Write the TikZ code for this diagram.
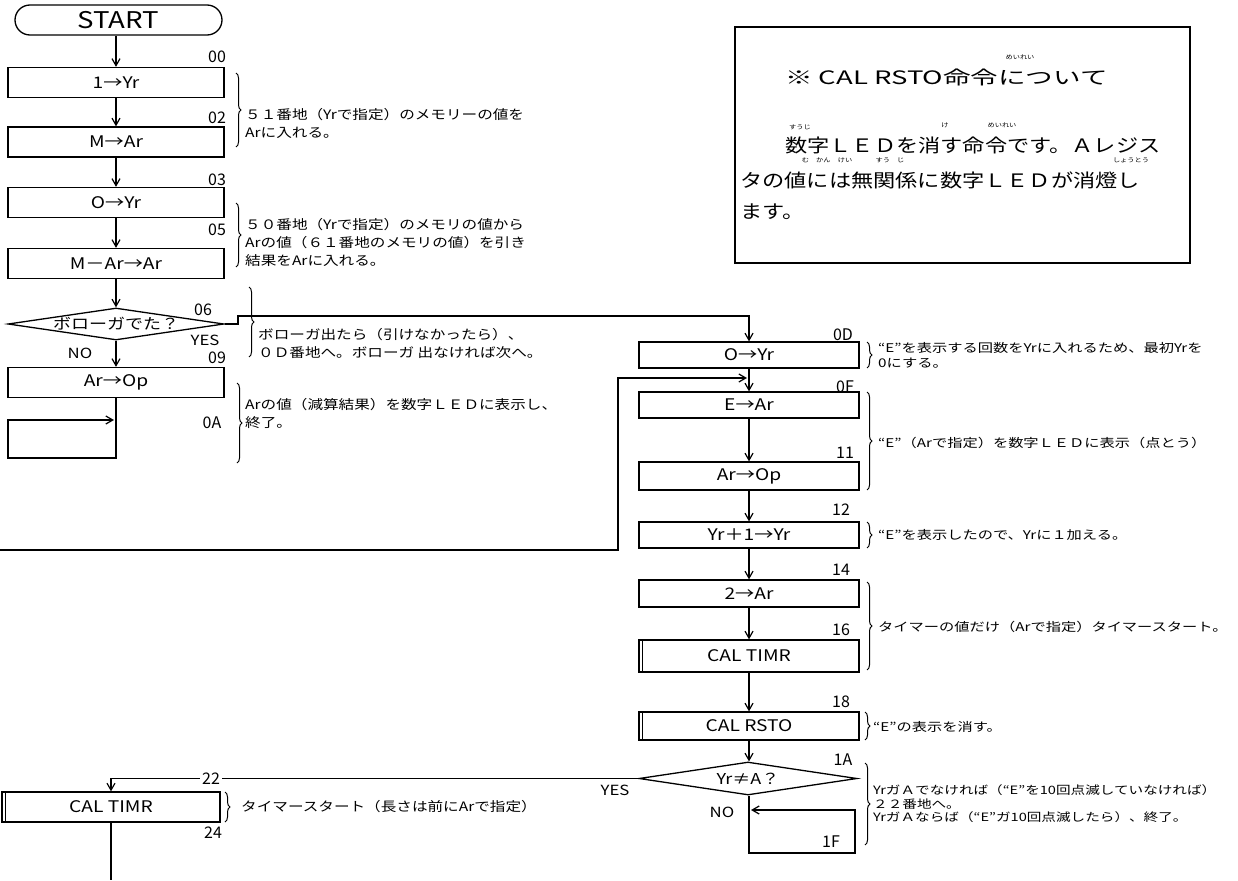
\documentclass[tikz,border=0pt]{standalone}
\usepackage{graphicx}
\usepackage{fontspec}
\setmainfont{Noto Sans CJK JP}[FakeStretch=1.2]
\newfontfamily\numfont{Noto Sans CJK JP}
\newfontfamily\rjp{Noto Sans CJK JP}[FakeStretch=1.27]
\usetikzlibrary{shapes.geometric,arrows.meta,decorations.pathreplacing,calc}
\begin{document}
\begin{tikzpicture}[x=1pt,y=-1pt,
  ln/.style={line width=1.3pt},
  arr/.style={ln,-{Straight Barb[length=7pt,width=8pt,line width=1.2pt]}},
  proc/.style={draw,ln,rectangle,minimum width=216pt,minimum height=30pt,inner sep=0pt,font=\fontsize{16}{16}\selectfont},
  rproc/.style={proc,minimum width=220pt},
  dec/.style={draw,ln,diamond,aspect=6.75,inner sep=0pt,minimum width=216pt,minimum height=32pt,font=\fontsize{15}{15}\selectfont},
  lab/.style={font=\numfont\fontsize{16}{16}\selectfont,inner sep=0pt},
  yn/.style={font=\fontsize{14}{14}\selectfont,inner sep=0pt},
  note/.style={font=\fontsize{13}{18}\selectfont,align=left,anchor=west,inner sep=0pt},
  rnote/.style={font=\rjp\fontsize{12}{15}\selectfont,align=left,anchor=west,inner sep=0pt},
  boxtxt/.style={font=\fontsize{18.5}{18.5}\selectfont,anchor=west,inner sep=0pt},
  ruby/.style={font=\fontsize{6}{6}\selectfont,inner sep=0pt},
  brc/.style={decorate,decoration={brace,amplitude=5pt},line width=1pt}]
\useasboundingbox[fill=white] (0,0) rectangle (1238,880);

% ---------- left column ----------
\node[draw,ln,rounded corners=15pt,minimum width=207pt,minimum height=30pt,inner sep=0pt,font=\fontsize{23}{23}\selectfont] (start) at (118.5,20) {START};
\node[proc] (a) at (116,82.5) {1→Yr};
\node[proc] (b) at (116,142) {M→Ar};
\node[proc] (c) at (116,202.5) {O→Yr};
\node[proc] (d) at (116,263.5) {M－Ar→Ar};
\node[dec] (q1) at (116,324) {ボローガでた？};
\node[proc] (e) at (116,382.5) {Ar→Op};

\draw[arr] (start.south -| a.north) -- (a.north);
\draw[arr] (a) -- (b);
\draw[arr] (b) -- (c);
\draw[arr] (c) -- (d);
\draw[arr] (d) -- (q1);
\draw[arr] (q1) -- (e);

\coordinate (l1) at (116,458);
\coordinate (l2) at (8,458);
\coordinate (l3) at (8,420);
\coordinate (l4) at (114,420);
\draw[arr] (e.south) -- (l1) -- (l2) -- (l3) -- (l4);

\node[lab] (n00) at (217,57) {00};
\node[lab] (n02) at (217,118) {02};
\node[lab] (n03) at (217,180) {03};
\node[lab] (n05) at (217,230) {05};
\node[lab] (n06) at (203,310) {06};
\node[yn] (yes1) at (205,340) {YES};
\node[yn] (no1) at (80,353) {NO};
\node[lab] (n09) at (217,358) {09};
\node[lab] (n0A) at (212,423) {0A};

\draw[brc] (236,73) -- (236,147);
\node[note] (t1) at (245,123) {５１番地（Yrで指定）のメモリーの値を\\Arに入れる。};
\draw[brc] (236,203) -- (236,267);
\node[note] (t2) at (245,242) {５０番地（Yrで指定）のメモリの値から\\Arの値（６１番地のメモリの値）を引き\\結果をArに入れる。};
\draw[brc] (249,287) -- (249,357);
\node[note] (t3) at (258,343) {ボローガ出たら（引けなかったら）、\\０Ｄ番地へ。ボローガ 出なければ次へ。};
\draw[brc] (237,383) -- (237,463);
\node[note] (t4) at (245,413) {Arの値（減算結果）を数字ＬＥＤに表示し、\\終了。};

% ---------- right column ----------
\node[rproc,minimum height=26pt] (f) at (749,355) {O→Yr};
\node[rproc,minimum height=26pt] (g) at (749,405) {E→Ar};
\node[rproc,minimum height=28pt] (h) at (749,476) {Ar→Op};
\node[rproc,minimum height=26pt] (i) at (749,535) {Yr＋1→Yr};
\node[rproc,minimum height=27pt] (j) at (749,593.5) {2→Ar};
\node[rproc,minimum height=32pt] (k) at (749,656) {CAL TIMR};
\node[rproc,minimum height=28pt] (l) at (749,726) {CAL RSTO};
\node[dec,minimum width=218pt,minimum height=33pt] (q2) at (748,778.5) {Yr≠A？};
\node[proc,minimum width=218pt] (m) at (111,807) {CAL TIMR};
\draw[ln] ([xshift=4pt]k.north west) -- ([xshift=4pt]k.south west);
\draw[ln] ([xshift=4pt]l.north west) -- ([xshift=4pt]l.south west);
\draw[ln] ([xshift=4pt]m.north west) -- ([xshift=4pt]m.south west);

\coordinate (y1) at (238,324);
\coordinate (y2) at (238,316);
\coordinate (y3) at (749,316);
\draw[arr] (q1.east) -- (y1) -- (y2) -- (y3) -- (f.north);

\draw[arr] (f) -- (g);
\draw[arr] (g) -- (h);
\draw[arr] (h) -- (i);
\draw[arr] (i) -- (j);
\draw[arr] (j) -- (k);
\draw[arr] (k) -- (l);
\draw[arr] (l) -- (q2.north -| l.south);

\coordinate (r0) at (0,550);
\coordinate (r1) at (618,550);
\coordinate (r2) at (618,378);
\coordinate (r3) at (747,378);
\draw[arr] (r0) -- (r1) -- (r2) -- (r3);

\coordinate (s1) at (749,853);
\coordinate (s2) at (855,853);
\coordinate (s3) at (855,810);
\coordinate (s4) at (751,810);
\draw[arr] (q2.south -| l.south) -- (s1) -- (s2) -- (s3) -- (s4);

\coordinate (w1) at (111,778.5);
\draw[arr] (q2.west) -- (w1) -- (m.north);
\coordinate (w2) at (111,880);
\draw[ln] (m.south) -- (w2);

\node[lab] (n0D) at (843,335) {0D};
\node[lab] (n0F) at (845,387) {0F};
\node[lab] (n11) at (845,453) {11};
\node[lab] (n12) at (841,510) {12};
\node[lab] (n14) at (841,570) {14};
\node[lab] (n16) at (841,630) {16};
\node[lab] (n18) at (841,702) {18};
\node[lab] (n1A) at (843,760) {1A};
\node[lab] (n1F) at (831,842) {1F};
\node[yn] (yes2) at (615,790) {YES};
\node[yn] (no2) at (722,812) {NO};
\node[lab,fill=white,inner xsep=2pt] (n22) at (211,778.5) {22};
\node[lab] (n24) at (213,833) {24};

\draw[brc] (867,342) -- (867,368);
\node[rnote] (u1) at (878,355) {“E”を表示する回数をYrに入れるため、最初Yrを\\0にする。};
\draw[brc] (867,392) -- (867,490);
\node[rnote] (u2) at (878,443) {“E”（Arで指定）を数字ＬＥＤに表示（点とう）};
\draw[brc] (867,522) -- (867,548);
\node[rnote] (u3) at (878,535) {“E”を表示したので、Yrに１加える。};
\draw[brc] (867,582) -- (867,670);
\node[rnote] (u4) at (878,627) {タイマーの値だけ（Arで指定）タイマースタート。};
\draw[brc] (865,712) -- (865,740);
\node[rnote] (u5) at (873,727) {“E”の表示を消す。};
\draw[brc] (865,763) -- (865,845);
\node[rnote,font=\rjp\fontsize{11.5}{13.5}\selectfont] (u6) at (873,804) {YrガＡでなければ（“E”を10回点滅していなければ）\\２２番地へ。\\YrガＡならば（“E”ガ10回点滅したら）、終了。};
\draw[brc] (225,792) -- (225,822);
\node[note] (u7) at (241,807) {タイマースタート（長さは前にArで指定）};

% ---------- note box ----------
\node[draw,ln,minimum width=455pt,minimum height=236pt,inner sep=0pt] (box) at (962.5,145) {};
\node[boxtxt] (x1) at (785,77) {\scalebox{1.24}[1]{※ CAL RSTO命令について}};
\node[boxtxt] (x2) at (785,145) {数字ＬＥＤを消す命令です。Ａレジス};
\node[boxtxt] (x3) at (740,180) {タの値には無関係に数字ＬＥＤが消燈し};
\node[boxtxt] (x4) at (740,212) {ます。};
\node[ruby] (r1a) at (1020,57) {めいれい};
\node[ruby] (r2a) at (800,127) {すうじ};
\node[ruby] (r2b) at (945,125) {け};
\node[ruby] (r2c) at (1002,125) {めいれい};
\node[ruby] (r3a) at (827,160) {む　かん　けい};
\node[ruby] (r3b) at (890,160) {すう　じ};
\node[ruby] (r3c) at (1131,160) {しょうとう};
\end{tikzpicture}
\end{document}
